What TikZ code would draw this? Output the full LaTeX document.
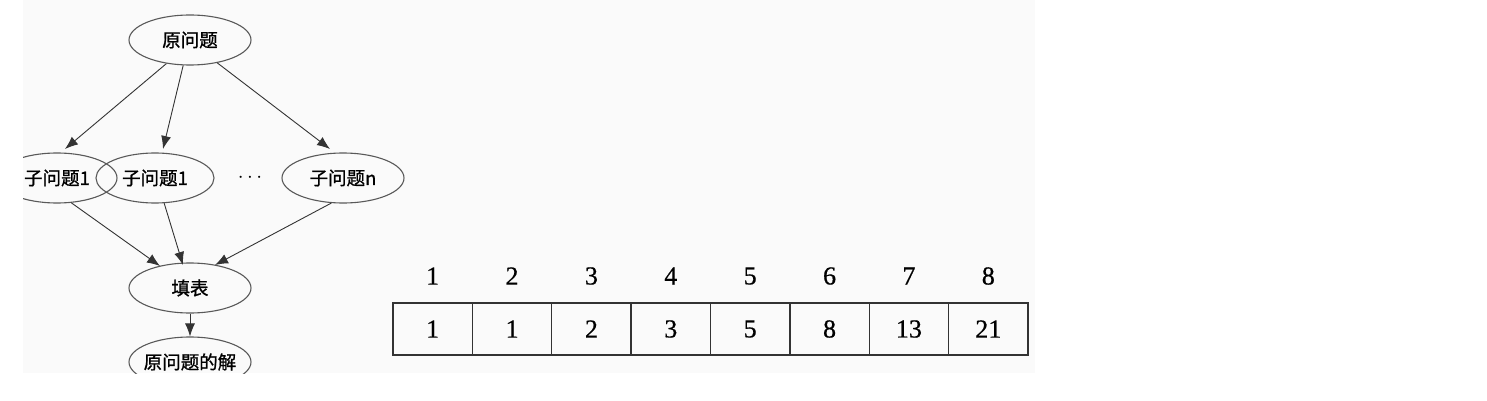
\documentclass[tikz,border=0pt]{standalone}
\usepackage{fontspec}
\newfontfamily\cjk[FakeBold=1.0]{Noto Sans CJK SC}
\newfontfamily\numfont[FakeBold=0.6]{Liberation Serif}
\usetikzlibrary{arrows.meta,shapes.geometric}
\begin{document}
\begin{tikzpicture}[x=1pt,y=-1pt,
  ell/.style={draw=black!65,line width=1.1pt,ellipse,minimum width=#1,minimum height=50pt,inner sep=0pt,font=\cjk\fontsize{18.5}{18.5}\selectfont},
  ell/.default=122pt,
  arr/.style={draw=black!80,line width=0.9pt,-{Latex[length=13pt,width=10pt]}},
  cell/.style={draw=black!80,line width=1.3pt,minimum width=79.4pt,minimum height=52pt,inner sep=0pt,font=\numfont\fontsize{26}{26}\selectfont},
  idx/.style={inner sep=0pt,font=\numfont\fontsize{26}{26}\selectfont}]
\useasboundingbox (0,0) rectangle (1487,401);
\fill[black!2] (23,0) rectangle (1035,373);
\begin{scope}
\clip (23,0) rectangle (1035,373);
\node[ell] (root) at (190,40) {原问题};
\node[ell=120pt] (s0) at (57,178) {子问题1};
\node[ell=118pt] (s1) at (155,178) {子问题1};
\node[inner sep=0pt,font=\fontsize{22}{22}\selectfont] (dots) at (250,178) {$\cdots$};
\node[ell] (sn) at (343,178) {子问题n};
\node[ell] (fill) at (190,288) {填表};
\node[ell=122pt] (sol) at (190,362) {\makebox[0pt]{原问题的解}};
\end{scope}
\draw[arr] (root.225) -- (65,149);
\draw[arr] (root.255) -- (163,149);
\draw[arr] (root.320) -- (330,149);
\draw[arr] (s0.300) -- (160,266);
\draw[arr] (s1.290) -- (183,265);
\draw[arr] (sn.245) -- (215,265);
\draw[arr] (fill) -- (sol);
% table
\foreach \v [count=\i] in {1,1,2,3,5,8,13,21}{
  \node[cell] (c\i) at ({393+79.375*(\i-0.5)},329) {\v};
  \node[idx] (h\i) at ({393+79.375*(\i-0.5)},276) {\i};
}
\end{tikzpicture}
\end{document}
